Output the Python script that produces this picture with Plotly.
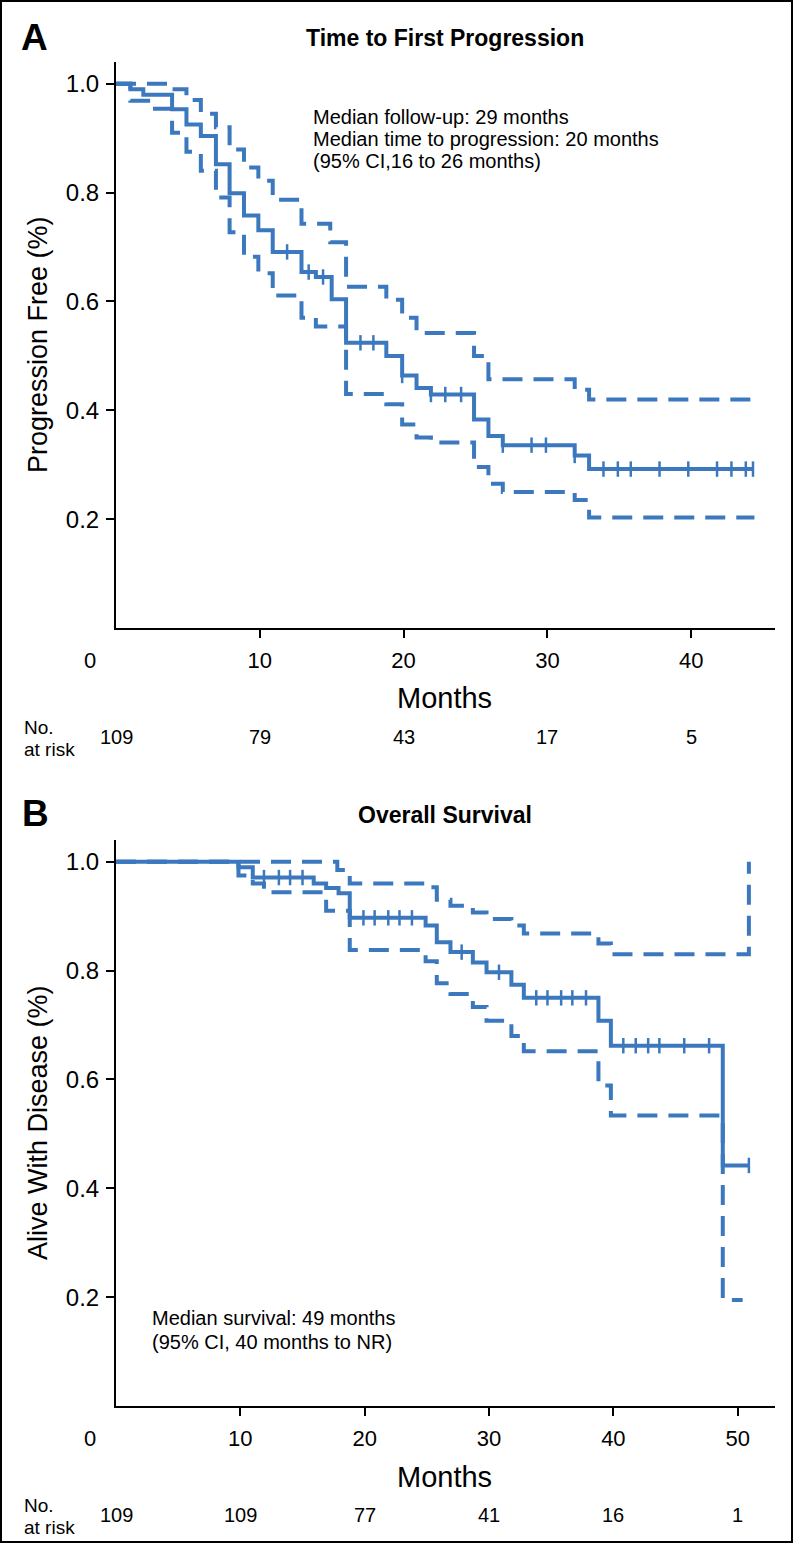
import plotly.graph_objects as go

# ---------------- DATA ----------------
# Panel A: Time to First Progression (Kaplan-Meier step points)
a_time = [0, 1.0, 1.9, 3.9, 4.9, 5.9, 6.95, 7.9, 8.9, 9.9, 10.9, 12.9, 13.9, 15.0, 16.0,
          18.8, 19.9, 20.9, 21.9, 24.9, 25.9, 26.9, 31.9, 32.9, 44.3]
a_surv = [1.0, 0.99, 0.98, 0.953, 0.925, 0.904, 0.852, 0.799, 0.758, 0.731, 0.691, 0.654, 0.645, 0.604, 0.524,
          0.50, 0.464, 0.441, 0.429, 0.383, 0.353, 0.336, 0.317, 0.292, 0.292]
a_up_time = [0, 3.9, 4.9, 5.9, 6.95, 7.9, 8.9, 9.9, 10.9, 12.9, 14.9, 16.0, 18.8, 19.9, 20.9,
             24.9, 25.9, 31.9, 32.9, 44.2]
a_up = [1.0, 0.99, 0.97, 0.945, 0.92, 0.879, 0.846, 0.822, 0.787, 0.743, 0.709, 0.627, 0.603, 0.57, 0.542,
        0.50, 0.457, 0.438, 0.42, 0.42]
a_lo_time = [0, 1.0, 2.4, 3.9, 4.9, 5.9, 6.95, 7.9, 8.9, 9.9, 10.9, 12.9, 13.9, 16.0, 18.8, 19.9,
             20.9, 21.9, 24.9, 25.9, 26.9, 31.9, 32.9, 44.4]
a_lo = [1.0, 0.969, 0.954, 0.91, 0.875, 0.84, 0.791, 0.727, 0.682, 0.652, 0.611, 0.57, 0.554, 0.43, 0.411, 0.374,
        0.35, 0.341, 0.296, 0.265, 0.25, 0.235, 0.203, 0.203]
a_cens_time = [11.9, 13.4, 14.4, 17.0, 17.9, 19.9, 21.9, 22.9, 24.0, 26.9, 28.9, 29.9, 31.9,
               33.9, 34.9, 35.8, 37.8, 39.8, 41.8, 42.8, 43.8, 44.3]
a_cens_surv = [0.691, 0.654, 0.645, 0.524, 0.524, 0.464, 0.429, 0.429, 0.429, 0.336, 0.336, 0.336, 0.317,
               0.292, 0.292, 0.292, 0.292, 0.292, 0.292, 0.292, 0.292, 0.292]
a_risk_time = [0, 10, 20, 30, 40]
a_risk_n = [109, 79, 43, 17, 5]

# Panel B: Overall Survival
b_time = [0, 9.85, 11.0, 15.9, 16.9, 17.9, 18.8, 24.9, 25.8, 26.9, 28.7, 29.8, 31.8, 32.8,
          38.8, 39.8, 48.8, 50.9]
b_surv = [1.0, 0.99, 0.971, 0.96, 0.952, 0.942, 0.897, 0.883, 0.852, 0.834, 0.815, 0.797, 0.774, 0.75,
          0.708, 0.662, 0.442, 0.442]
b_up_time = [0, 17.8, 18.8, 24.9, 25.8, 26.9, 28.7, 29.8, 31.8, 32.8, 38.8, 39.8, 50.9]
b_up = [1.0, 0.985, 0.96, 0.953, 0.93, 0.919, 0.907, 0.895, 0.883, 0.868, 0.85, 0.83, 1.0]
b_lo_time = [0, 9.85, 11.0, 11.9, 16.9, 18.8, 24.9, 25.8, 26.9, 28.7, 29.8, 31.8, 32.8, 38.8,
             39.8, 48.8, 50.4]
b_lo = [1.0, 0.975, 0.96, 0.944, 0.91, 0.838, 0.817, 0.777, 0.757, 0.733, 0.708, 0.68, 0.652, 0.589,
        0.534, 0.195, 0.195]
b_cens_time = [11.9, 13.1, 14.0, 15.0, 19.9, 20.8, 21.9, 22.8, 23.8, 27.8, 30.8,
               33.8, 34.7, 35.8, 36.7, 37.8, 40.8, 41.8, 42.8, 43.7, 45.7, 47.7, 50.9]
b_cens_surv = [0.971, 0.971, 0.971, 0.971, 0.897, 0.897, 0.897, 0.897, 0.897, 0.834, 0.797,
               0.75, 0.75, 0.75, 0.75, 0.75, 0.662, 0.662, 0.662, 0.662, 0.662, 0.662, 0.442]
b_risk_time = [0, 10, 20, 30, 40, 50]
b_risk_n = [109, 109, 77, 41, 16, 1]

y_ticks = [0.2, 0.4, 0.6, 0.8, 1.0]
y_tick_text = ["0.2", "0.4", "0.6", "0.8", "1.0"]
a_x_ticks = [10, 20, 30, 40]
b_x_ticks = [10, 20, 30, 40, 50]

# ---------------- STYLE ----------------
W, H = 796, 1543
BLUE = "#3B78BE"
FONT = "Liberation Sans, Arial, sans-serif"
DASH = "20px,11px"


def px(x):
    return x / W


def py(y):
    return 1 - y / H


fig = go.Figure()


def add_panel(xa, ya, t, s, ut, u, lt, l, ct, cs):
    fig.add_trace(go.Scatter(x=ut, y=u, mode="lines", line=dict(color=BLUE, width=4, dash=DASH, shape="hv"),
                             xaxis=xa, yaxis=ya, showlegend=False, hoverinfo="skip"))
    fig.add_trace(go.Scatter(x=lt, y=l, mode="lines", line=dict(color=BLUE, width=4, dash=DASH, shape="hv"),
                             xaxis=xa, yaxis=ya, showlegend=False, hoverinfo="skip"))
    fig.add_trace(go.Scatter(x=t, y=s, mode="lines", line=dict(color=BLUE, width=4, shape="hv"),
                             xaxis=xa, yaxis=ya, showlegend=False))
    fig.add_trace(go.Scatter(x=ct, y=cs, mode="markers",
                             marker=dict(symbol="line-ns", size=11, line=dict(color=BLUE, width=2.5)),
                             xaxis=xa, yaxis=ya, showlegend=False))


add_panel("x", "y", a_time, a_surv, a_up_time, a_up, a_lo_time, a_lo, a_cens_time, a_cens_surv)
add_panel("x2", "y2", b_time, b_surv, b_up_time, b_up, b_lo_time, b_lo, b_cens_time, b_cens_surv)

axis_common = dict(showline=True, linecolor="black", linewidth=2, showgrid=False, zeroline=False,
                   ticks="outside", ticklen=8, tickwidth=2, tickcolor="black", mirror=False)

x_dom = [px(116), px(775)]
a_dom = [py(628), py(62)]
b_dom = [py(1406), py(840)]

fig.update_layout(
    width=W, height=H, margin=dict(l=0, r=0, t=0, b=0),
    paper_bgcolor="white", plot_bgcolor="white",
    xaxis=dict(domain=x_dom, range=[0, 45.83], tickvals=a_x_ticks, anchor="y",
               tickfont=dict(family=FONT, size=22, color="black"), ticklabelstandoff=4, **axis_common),
    yaxis=dict(domain=a_dom, range=[0, 1.04], tickvals=y_ticks, ticktext=y_tick_text, anchor="x",
               tickfont=dict(family=FONT, size=24, color="black"), ticklabelstandoff=2, **axis_common),
    xaxis2=dict(domain=x_dom, range=[0, 53.0], tickvals=b_x_ticks, anchor="y2",
                tickfont=dict(family=FONT, size=22, color="black"), ticklabelstandoff=4, **axis_common),
    yaxis2=dict(domain=b_dom, range=[0, 1.04], tickvals=y_ticks, ticktext=y_tick_text, anchor="x2",
                tickfont=dict(family=FONT, size=24, color="black"), ticklabelstandoff=2, **axis_common),
)

ann = []


def text(x, y, s, size, bold=False, xanchor="center", angle=0, xref="paper"):
    ann.append(dict(x=x, y=y, xref=xref, yref="paper", text=("<b>%s</b>" % s) if bold else s,
                    showarrow=False, xanchor=xanchor, yanchor="middle", textangle=angle,
                    font=dict(family=FONT, size=size, color="black")))


# Panel A texts
text(px(34), py(37), "A", 37, bold=True)
text(px(445), py(38), "Time to First Progression", 23, bold=True)
text(px(311), py(117), "Median follow-up: 29 months", 20, xanchor="left")
text(px(311), py(139), "Median time to progression: 20 months", 20, xanchor="left")
text(px(311), py(161), "(95% CI,16 to 26 months)", 20, xanchor="left")
text(px(38), py(345), "Progression Free (%)", 27, angle=-90)
text(px(90), py(660), "0", 22)
text(px(445), py(698), "Months", 29)
text(px(22), py(727), "No.", 19, xanchor="left")
text(px(22), py(749), "at risk", 19, xanchor="left")
for t_, n_ in zip(a_risk_time, a_risk_n):
    ann.append(dict(x=t_, y=py(737), xref="x", yref="paper", text=str(n_), showarrow=False,
                    xanchor="center", yanchor="middle", font=dict(family=FONT, size=20, color="black")))

# Panel B texts
text(px(35), py(813), "B", 37, bold=True)
text(px(445), py(815), "Overall Survival", 23, bold=True)
text(px(150), py(1318), "Median survival: 49 months", 20, xanchor="left")
text(px(150), py(1342), "(95% CI, 40 months to NR)", 20, xanchor="left")
text(px(38), py(1123), "Alive With Disease (%)", 27, angle=-90)
text(px(90), py(1438), "0", 22)
text(px(445), py(1477), "Months", 29)
text(px(22), py(1505), "No.", 19, xanchor="left")
text(px(22), py(1527), "at risk", 19, xanchor="left")
for t_, n_ in zip(b_risk_time, b_risk_n):
    ann.append(dict(x=t_, y=py(1515), xref="x2", yref="paper", text=str(n_), showarrow=False,
                    xanchor="center", yanchor="middle", font=dict(family=FONT, size=20, color="black")))

fig.update_layout(annotations=ann)

# outer frame
fig.add_shape(type="rect", xref="paper", yref="paper", x0=px(1), x1=px(792), y0=py(1542), y1=py(1),
              line=dict(color="black", width=2), fillcolor="rgba(0,0,0,0)")

fig.write_html("out.html", config={"displayModeBar": False},
               post_script="document.body.style.margin='0';document.body.style.overflow='hidden';")
